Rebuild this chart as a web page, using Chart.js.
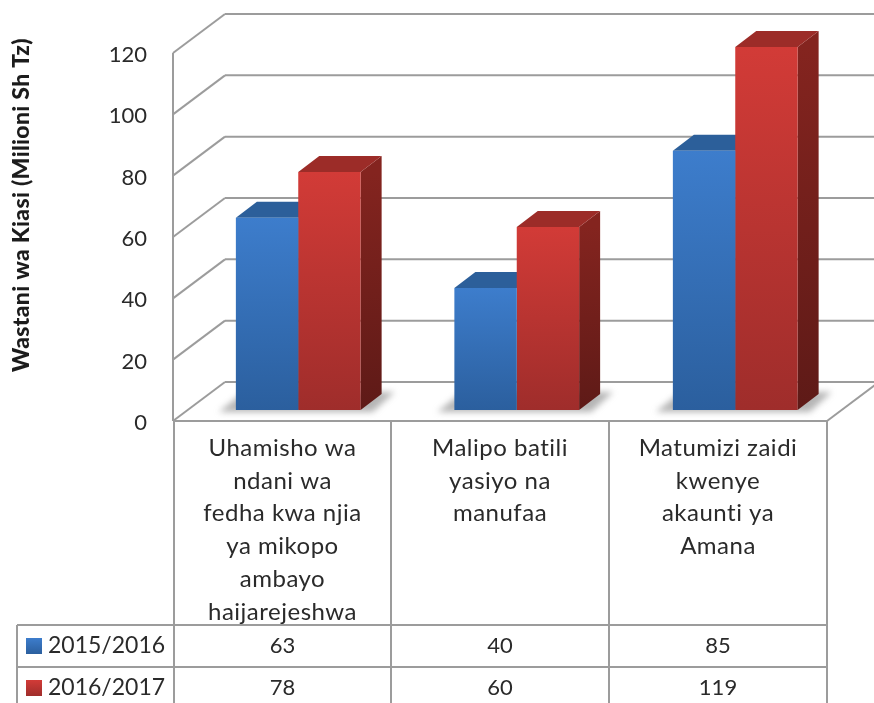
<!DOCTYPE html>
<html>
<head>
<meta charset="utf-8">
<style>
  html, body { margin: 0; padding: 0; background: #fff; overflow: hidden; }
  canvas { display: block; }
</style>
<script src="https://cdn.jsdelivr.net/npm/chart.js@4"></script>
</head>
<body>
<canvas id="chart" width="874" height="703"></canvas>
<script>
const categories = [
  ['Uhamisho wa', 'ndani wa', 'fedha kwa njia', 'ya mikopo', 'ambayo', 'haijarejeshwa'],
  ['Malipo batili', 'yasiyo na', 'manufaa'],
  ['Matumizi zaidi', 'kwenye', 'akaunti ya', 'Amana']
];
const seriesNames = ['2015/2016', '2016/2017'];
const values2016 = [63, 40, 85];
const values2017 = [78, 60, 119];
const axisTitle = 'Wastani wa Kiasi (Milioni Sh Tz)';

// top, bottom, side top, side bottom, roof
const blues = ['#3d7dcc', '#2b5f9e', '#2c5f9a', '#244f82', '#2c5f9a'];
const reds = ['#d23b37', '#9f2d2b', '#84241f', '#5e1a17', '#9c2c28'];

const FONT = 'Lato, Carlito, sans-serif';
const TEXT = '#2a2a2a';
const LINE = '#9c9c9c';

// offsets from the plane the bars stand on
const FRONT = { x: -16, y: 11 };
const BACK = { x: 36, y: -28 };
const BAR_DEPTH = { x: 21, y: -16 };
const WALL_STRETCH = 1.0055; // walls come out a touch taller than the bar plane

// table
const TBL_LEFT = 17, TBL_X = [174, 391, 609, 827], TBL_ROWS = [625, 667], ROW_MID = [646, 688];
const CAT_FIRST = 448, CAT_STEP = 32.8;

function frontGradient(ctx, col) {
  const chart = ctx.chart;
  const y = chart.scales.y;
  if (ctx.raw === undefined || !chart.chartArea) return col[0];
  const g = chart.ctx.createLinearGradient(0, y.getPixelForValue(ctx.raw), 0, y.getPixelForValue(0));
  g.addColorStop(0, col[0]);
  g.addColorStop(1, col[1]);
  return g;
}

function poly(c, pts, fill) {
  c.beginPath();
  pts.forEach((p, i) => i ? c.lineTo(p[0], p[1]) : c.moveTo(p[0], p[1]));
  c.closePath();
  c.fillStyle = fill;
  c.fill();
}

function line(c, x1, y1, x2, y2) {
  c.beginPath();
  c.moveTo(x1, y1);
  c.lineTo(x2, y2);
  c.stroke();
}

// tick value -> pixel on the front or back edge of the wall
function wallY(y, value, off) {
  const zero = y.getPixelForValue(0);
  return zero + off.y - (zero - y.getPixelForValue(value)) * WALL_STRETCH;
}

const box3d = {
  id: 'box3d',
  beforeDatasetsDraw(chart) {
    const c = chart.ctx, y = chart.scales.y, x = chart.scales.x;
    const zero = y.getPixelForValue(0);
    const { width, height } = chart;
    const lastTick = y.ticks[y.ticks.length - 1].value;
    c.save();

    // walls + floor
    c.strokeStyle = LINE;
    c.lineWidth = 2;
    const fx = x.left + FRONT.x, bx = x.left + BACK.x;
    y.ticks.forEach(t => {
      line(c, fx, wallY(y, t.value, FRONT), bx, wallY(y, t.value, BACK));
      line(c, bx, wallY(y, t.value, BACK), width, wallY(y, t.value, BACK));
    });
    line(c, fx, wallY(y, lastTick, FRONT), fx, zero + FRONT.y);
    line(c, fx, zero + FRONT.y, TBL_X[3], zero + FRONT.y);
    line(c, TBL_X[3], zero + FRONT.y, TBL_X[3] + 52, zero + FRONT.y - 39);

    // table grid
    TBL_X.forEach(tx => line(c, tx, zero + FRONT.y, tx, height));
    line(c, TBL_LEFT, TBL_ROWS[0], TBL_LEFT, height);
    TBL_ROWS.forEach(ty => line(c, TBL_LEFT, ty, TBL_X[3], ty));

    // floor shadow under each bar pair
    const m0 = chart.getDatasetMeta(0).data, m1 = chart.getDatasetMeta(1).data;
    c.filter = 'blur(3px)';
    m0.forEach((b, i) => {
      const l = b.x - b.width / 2, r = m1[i].x + m1[i].width / 2;
      poly(c, [[l - 17, zero + 2], [l + 8, zero + BAR_DEPTH.y - 2], [r + 34, zero + BAR_DEPTH.y - 2], [r + 12, zero + 2]], 'rgba(120,120,120,.55)');
    });
    c.filter = 'none';

    // depth faces of the bars
    chart.data.datasets.forEach((ds, d) => {
      const col = d ? reds : blues;
      chart.getDatasetMeta(d).data.forEach(b => {
        const l = b.x - b.width / 2, r = b.x + b.width / 2, top = b.y;
        const g = c.createLinearGradient(0, top, 0, zero);
        g.addColorStop(0, col[2]);
        g.addColorStop(1, col[3]);
        poly(c, [[r, top], [r + BAR_DEPTH.x, top + BAR_DEPTH.y], [r + BAR_DEPTH.x, zero + BAR_DEPTH.y], [r, zero]], g);
        poly(c, [[l, top], [l + BAR_DEPTH.x, top + BAR_DEPTH.y], [r + BAR_DEPTH.x, top + BAR_DEPTH.y], [r, top]], col[4]);
      });
    });
    c.restore();
  },
  afterDraw(chart) {
    const c = chart.ctx, y = chart.scales.y;
    c.save();
    c.fillStyle = TEXT;
    c.textBaseline = 'middle';

    // y tick labels
    c.font = '22px ' + FONT;
    c.textAlign = 'right';
    y.ticks.forEach(t => c.fillText(t.label, 147, wallY(y, t.value, FRONT) + 2));

    // category cells
    c.textAlign = 'center';
    c.font = '24px ' + FONT;
    c.letterSpacing = '0.5px';
    categories.forEach((lines, i) => {
      const cx = (TBL_X[i] + TBL_X[i + 1]) / 2;
      lines.forEach((s, k) => c.fillText(s, cx, CAT_FIRST + k * CAT_STEP));
    });
    c.letterSpacing = '0px';

    // data rows
    c.font = '22px ' + FONT;
    chart.data.datasets.forEach((ds, d) => {
      ds.data.forEach((v, i) => c.fillText(v, (TBL_X[i] + TBL_X[i + 1]) / 2, ROW_MID[d]));
    });

    // legend keys in the first column
    c.textAlign = 'left';
    c.font = '23px ' + FONT;
    chart.data.datasets.forEach((ds, d) => {
      const col = d ? reds : blues, top = ROW_MID[d] - 8;
      const g = c.createLinearGradient(0, top, 0, top + 16);
      g.addColorStop(0, col[0]);
      g.addColorStop(1, col[1]);
      c.fillStyle = g;
      c.fillRect(26, top, 16, 16);
      c.fillStyle = TEXT;
      c.fillText(ds.label, 48, ROW_MID[d]);
    });

    // y axis title
    c.translate(22, 205);
    c.rotate(-Math.PI / 2);
    c.textAlign = 'center';
    c.fillStyle = '#1c1c1c';
    c.font = '900 23px ' + FONT;
    c.letterSpacing = '0.3px';
    c.fillText(axisTitle, 0, 0);
    c.restore();
  }
};

new Chart(document.getElementById('chart'), {
  type: 'bar',
  data: {
    labels: categories.map(l => l.join(' ')),
    datasets: [
      { label: seriesNames[0], data: values2016, backgroundColor: ctx => frontGradient(ctx, blues) },
      { label: seriesNames[1], data: values2017, backgroundColor: ctx => frontGradient(ctx, reds) }
    ]
  },
  options: {
    responsive: false,
    animation: false,
    devicePixelRatio: 1,
    layout: { padding: { left: 189, right: 29.5, top: 42, bottom: 293 } },
    datasets: { bar: { categoryPercentage: 0.571, barPercentage: 1 } },
    plugins: { legend: { display: false }, tooltip: { enabled: false } },
    scales: {
      x: { display: false },
      y: { display: false, min: 0, max: 120.66, ticks: { stepSize: 20, includeBounds: false } }
    }
  },
  plugins: [box3d]
});
</script>
</body>
</html>
